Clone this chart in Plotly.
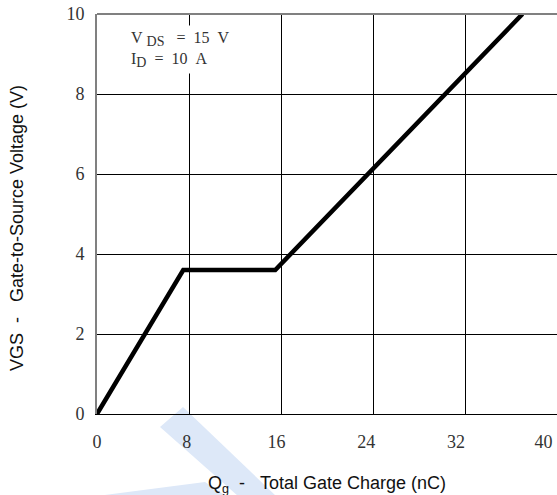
import plotly.graph_objects as go

# Data
qg = [0, 7.5, 15.5, 37.0]          # total gate charge (nC)
vgs = [0, 3.6, 3.6, 10.0]          # gate-to-source voltage (V)
x_ticks = [0, 8, 16, 24, 32, 40]
x_tick_labels = ["0", "8", "16", "24", "32", "40"]
y_ticks = [0, 2, 4, 6, 8, 10]
y_tick_labels = ["0", "2", "4", "6", "8", "10"]

W, H = 557, 495
L, R, T, B = 97, 0, 14, 81
PW, PH = W - L - R, H - T - B


def px(xp):
    return (xp - L) / PW


def py(yp):
    return (H - B - yp) / PH


# the reference's x labels drift slightly left of their gridlines; pad with nbsp
pad_counts = [0, 1, 2, 3, 4, 6]
x_text = [lab + "\u00a0" * n for lab, n in zip(x_tick_labels, pad_counts)]

fig = go.Figure()
fig.add_trace(go.Scatter(
    x=qg, y=vgs, mode="lines",
    line=dict(color="black", width=4.5),
    hoverinfo="skip", showlegend=False,
))

tick_font = dict(family="Liberation Serif, DejaVu Serif, serif", size=18, color="#333333")

fig.update_xaxes(
    range=[0, 40], tickvals=x_ticks, ticktext=x_text,
    showgrid=True, gridcolor="black", gridwidth=1,
    zeroline=False, showline=True, linecolor="black", linewidth=1,
    ticks="", ticklabelstandoff=11, ticklabeloverflow="allow", automargin=False,
    tickfont=tick_font, fixedrange=True,
)
fig.update_yaxes(
    range=[0, 10], tickvals=y_ticks, ticktext=y_tick_labels,
    showgrid=True, gridcolor="black", gridwidth=1,
    zeroline=False, showline=True, linecolor="#808080", linewidth=2,
    ticks="", ticklabelstandoff=7, ticklabeloverflow="allow", automargin=False,
    tickfont=tick_font, fixedrange=True,
)

def poly(points):
    d = "M " + " L ".join(f"{px(a):.4f},{py(b):.4f}" for a, b in points) + " Z"
    return d

shapes = [
    # faint watermark bands
    dict(type="path", xref="paper", yref="paper", layer="below",
         path=poly([(160, 427), (183, 407), (276, 496), (238, 496)]),
         fillcolor="#dde8f8", line=dict(width=0)),
    dict(type="path", xref="paper", yref="paper", layer="below",
         path=poly([(97, 496), (205, 482), (226, 496)]),
         fillcolor="#dde8f8", line=dict(width=0)),
    # top border
    dict(type="line", xref="paper", yref="paper", x0=0, x1=1, y0=1, y1=1,
         line=dict(color="#808080", width=2)),
]

nb = "\u00a0"
annotations = [
    dict(xref="paper", yref="paper", x=px(127), y=py(49), xanchor="left", yanchor="middle",
         text=(f"V{nb}<sub><span style='font-size:14px'>DS</span></sub>{nb*3}={nb*2}15{nb*2}V<br>"
               f"I<sub><span style='font-size:14px'>D</span></sub>{nb*2}={nb*2}10{nb*2}A"),
         showarrow=False, align="left", bgcolor="white", borderpad=3,
         font=dict(family="Liberation Serif, DejaVu Serif, serif", size=16, color="#333333")),
    dict(xref="paper", yref="paper", x=px(327), y=py(484), xanchor="center", yanchor="middle",
         text=f"Q<sub>g</sub>{nb*2}-{nb*3}Total Gate Charge (nC)", showarrow=False,
         font=dict(family="Liberation Sans, Arial, sans-serif", size=18, color="#111111")),
    dict(xref="paper", yref="paper", x=px(17), y=py(228), xanchor="center", yanchor="middle",
         textangle=-90,
         text=f"VGS{nb*2}-{nb*3}Gate-to-Source Voltage (V)", showarrow=False,
         font=dict(family="Liberation Sans, Arial, sans-serif", size=18, color="#111111")),
]

fig.update_layout(
    width=W, height=H, autosize=False,
    margin=dict(l=L, r=R, t=T, b=B, pad=0, autoexpand=False),
    paper_bgcolor="white", plot_bgcolor="rgba(0,0,0,0)",
    shapes=shapes, annotations=annotations, showlegend=False,
)

fig.write_html(
    "out.html",
    config={"displayModeBar": False},
    post_script="document.body.style.margin='0';document.body.style.overflow='hidden';",
)
